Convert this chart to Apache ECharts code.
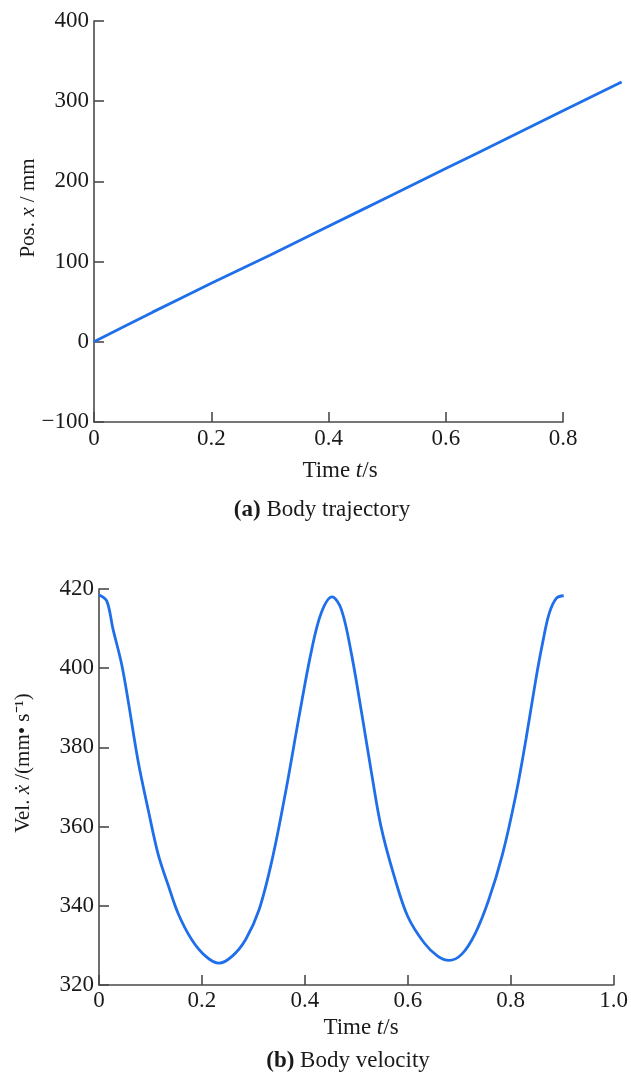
<!DOCTYPE html>
<html>
<head>
<meta charset="utf-8">
<script src="https://cdn.jsdelivr.net/npm/echarts@6/dist/echarts.min.js"></script>
<style>html,body{margin:0;padding:0;background:#fff}#c{width:631px;height:1076px}</style>
</head>
<body>
<div id="c"></div>
<script>
// Top panel: body trajectory
const posTime = [0, 0.1, 0.2, 0.3, 0.4, 0.5, 0.6, 0.7, 0.8, 0.9];
const posValues = [0, 37, 73, 108, 144, 180, 216, 252, 288, 324];
const posYTicks = [-100, 0, 100, 200, 300, 400];
const posXTicks = [0, 0.2, 0.4, 0.6, 0.8];
const posDataEnd = 0.9;

// Bottom panel: body velocity
const velTime = [0, 0.015, 0.027, 0.044, 0.057, 0.076, 0.096, 0.115, 0.135, 0.154, 0.18, 0.207, 0.233, 0.259, 0.285, 0.311, 0.337, 0.363, 0.389, 0.413, 0.432, 0.453, 0.471, 0.49, 0.51, 0.529, 0.548, 0.574, 0.6, 0.632, 0.658, 0.68, 0.705, 0.731, 0.757, 0.784, 0.81, 0.83, 0.849, 0.862, 0.875, 0.889, 0.903];
const velValues = [418.5, 417, 410, 401, 391.5, 376.5, 364, 353, 345, 338, 331.5, 327.3, 325.5, 327.3, 331.5, 339, 352, 369, 388, 404.5, 414, 418, 414.8, 404, 389, 374, 360, 347.3, 337.3, 330.6, 327.3, 326.2, 327.8, 333, 341.4, 353, 368, 382.3, 397.3, 406.4, 413.9, 417.7, 418.3];
const velYTicks = [320, 340, 360, 380, 400, 420];
const velXTicks = [0, 0.2, 0.4, 0.6, 0.8, 1.0];

// Texts
const xName = '{n|Time }{i|t}{n|/s}';
const posYName = '{n|Pos. }{i|x}{n| / mm}';
const velYName = '{n|Vel. }{i|x\u0307}{n| /(mm\u2022 s\u207B\u00B9)}';
const capA = '{b|(a)}{n| Body trajectory}';
const capB = '{b|(b)}{n| Body velocity}';

const FONT = '"Liberation Serif", "Times New Roman", serif';
const TXT = '#1a1a1a';
const AX = '#4a4a4a';
const LINE = '#1f6fea';
const FS = 23;

function xLbl(v) { return v === 0 ? '0' : v.toFixed(1); }
function yLbl(v) { return String(v).replace('-', '\u2212'); }

function rich(fs) {
  return {
    n: { fontFamily: FONT, fontSize: fs, color: TXT, fontWeight: 'normal' },
    i: { fontFamily: FONT, fontSize: fs, color: TXT, fontStyle: 'italic', fontWeight: 'normal' },
    b: { fontFamily: FONT, fontSize: fs, color: TXT, fontWeight: 'bold' }
  };
}

function axisCommon() {
  return {
    axisLine: { show: true, onZero: false, lineStyle: { color: AX, width: 1.6 } },
    axisTick: { show: true, inside: true, length: 10, lineStyle: { color: AX, width: 1.6 } },
    splitLine: { show: false },
    axisLabel: { fontFamily: FONT, fontSize: FS, color: TXT, margin: 5 }
  };
}
function hiddenAxis() {
  return { show: false, axisLine: { show: false }, axisTick: { show: false }, axisLabel: { show: false }, splitLine: { show: false } };
}

function label(text, x, y, fs, rot) {
  return {
    type: 'text', x: x, y: y, rotation: rot || 0, silent: true,
    style: { text: text, rich: rich(fs), align: 'center', verticalAlign: 'middle', fontFamily: FONT, fontSize: fs, fill: TXT }
  };
}

const topLeft = 94, topTop = 21, topW = 469, topH = 401;
const botLeft = 99, botTop = 589, botW = 518, botH = 396;

const chart = echarts.init(document.getElementById('c'), null, { renderer: 'canvas' });

const option = {
  backgroundColor: '#fff',
  animation: false,
  grid: [
    { left: topLeft, top: topTop, width: topW, height: topH },
    { left: botLeft, top: botTop, width: botW, height: botH },
    // data grid for top panel: same scale, extends to the last sample (0.9 s)
    { left: topLeft, top: topTop, width: topW * posDataEnd / posXTicks[posXTicks.length - 1], height: topH }
  ],
  xAxis: [
    Object.assign(axisCommon(), {
      type: 'value', gridIndex: 0, min: posXTicks[0], max: posXTicks[posXTicks.length - 1], interval: 0.2,
      axisLabel: { fontFamily: FONT, fontSize: FS, color: TXT, margin: 5, formatter: xLbl }
    }),
    Object.assign(axisCommon(), {
      type: 'value', gridIndex: 1, min: velXTicks[0], max: velXTicks[velXTicks.length - 1], interval: 0.2,
      axisLabel: { fontFamily: FONT, fontSize: FS, color: TXT, margin: 4, formatter: xLbl }
    }),
    Object.assign(hiddenAxis(), { type: 'value', gridIndex: 2, min: 0, max: posDataEnd })
  ],
  yAxis: [
    Object.assign(axisCommon(), {
      type: 'value', gridIndex: 0, min: posYTicks[0], max: posYTicks[posYTicks.length - 1], interval: 100,
      axisLabel: { fontFamily: FONT, fontSize: FS, color: TXT, margin: 5, formatter: yLbl }
    }),
    Object.assign(axisCommon(), {
      type: 'value', gridIndex: 1, min: velYTicks[0], max: velYTicks[velYTicks.length - 1], interval: 20,
      axisLabel: { fontFamily: FONT, fontSize: FS, color: TXT, margin: 5, formatter: yLbl }
    }),
    Object.assign(hiddenAxis(), { type: 'value', gridIndex: 2, min: posYTicks[0], max: posYTicks[posYTicks.length - 1] })
  ],
  graphic: [
    label(xName, 340, 471, FS),
    label(capA, 322, 510, FS),
    label(posYName, 28, 208, 21, Math.PI / 2),
    label(xName, 361, 1028, FS),
    label(capB, 348, 1061, FS),
    label(velYName, 23, 763, 21, Math.PI / 2)
  ],
  series: [
    {
      type: 'line', xAxisIndex: 2, yAxisIndex: 2, clip: false, showSymbol: false, smooth: 0.2,
      lineStyle: { color: LINE, width: 2.8 },
      data: posTime.map((t, k) => [t, posValues[k]])
    },
    {
      type: 'line', xAxisIndex: 1, yAxisIndex: 1, clip: false, showSymbol: false, smooth: 0.35,
      lineStyle: { color: LINE, width: 2.8 },
      data: velTime.map((t, k) => [t, velValues[k]])
    }
  ]
};
chart.setOption(option);
</script>
</body>
</html>
